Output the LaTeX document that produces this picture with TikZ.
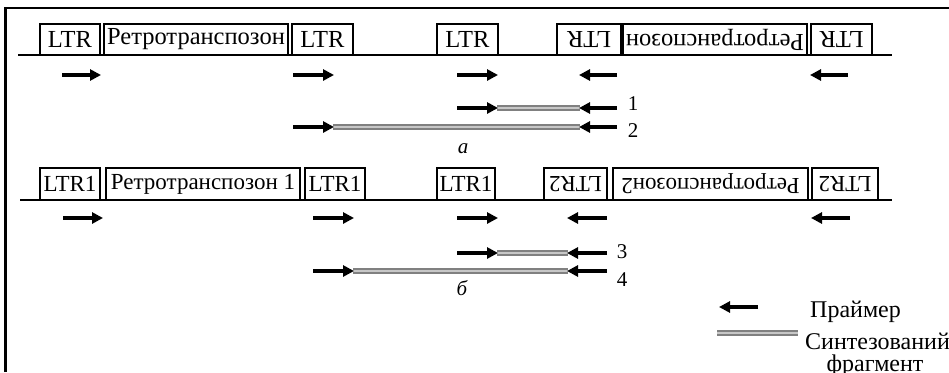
\documentclass[tikz,border=0pt]{standalone}
\usepackage{fontspec}
\setmainfont{Liberation Serif}
\usetikzlibrary{arrows.meta}
\begin{document}
\begin{tikzpicture}[x=1pt,y=-1pt,
  seg/.style={draw, line width=2pt, inner sep=0pt},
  segA/.style={seg, minimum height=31pt, font=\fontsize{24.5}{24.5}\selectfont},
  segB/.style={seg, minimum height=32pt, font=\fontsize{23}{23}\selectfont},
  inv/.style={rotate=180},
  dna/.style={line width=2.6pt},
  dnathin/.style={line width=1.5pt},
  primer/.style={line width=3.2pt, -{Triangle[length=11pt,width=11pt]}},
  fragment/.style={draw=black!50, line width=1.8pt, double=black!22, double distance=1.6pt},
  lbl/.style={inner sep=0pt, font=\fontsize{21}{21}\selectfont},
  legend/.style={inner sep=0pt, font=\fontsize{24}{24}\selectfont}]
\useasboundingbox (0,0) rectangle (949,372);
\fill[white] (0,0) rectangle (949,372);

% frame
\draw[line width=2.8pt] (5.5,372) -- (5.5,8) -- (949,8);

% ---------- case a ----------
\draw[dna] (18,55) -- (892,55);
\node[segA] (a1) at (70,39.5) [minimum width=60pt] {LTR};
\node[segA] (a2) at (196,39.5) [minimum width=184pt] {Ретротранспозон};
\node[segA] (a3) at (322.5,39.5) [minimum width=61pt] {LTR};
\node[segA] (a4) at (467.5,39.5) [minimum width=61pt] {LTR};
\node[segA, inv] (a5) at (589,39.5) [minimum width=64pt] {LTR};
\node[segA, inv] (a6) at (715,39.5) [minimum width=184pt] {Ретротранспозон};
\node[segA, inv] (a7) at (841.5,39.5) [minimum width=61pt] {LTR};

% primers
\draw[primer] (62,75) -- (101,75);
\draw[primer] (293,75) -- (334,75);
\draw[primer] (457,75) -- (498,75);
\draw[primer] (617,75) -- (579,75);
\draw[primer] (848,75) -- (810,75);

% products 1 and 2
\draw[fragment] (497,108) -- (580,108);
\draw[primer] (457,108) -- (498,108);
\draw[primer] (617,108) -- (579,108);
\node[lbl] (n1) at (633,104) {1};

\draw[fragment] (333,127) -- (580,127);
\draw[primer] (293,127) -- (334,127);
\draw[primer] (617,127) -- (579,127);
\node[lbl] (n2) at (633,131) {2};

\node[lbl] (capa) at (463,149) {\itshape a};

% ---------- case b ----------
\draw[dna] (20,200) -- (380,200);
\draw[dnathin] (380,200) -- (544,200);
\draw[dna] (544,200) -- (892,200);
\node[segB] (b1) at (70,184) [minimum width=60pt] {LTR1};
\node[segB] (b2) at (203,184) [minimum width=194pt] {Ретротранспозон 1};
\node[segB] (b3) at (335,184) [minimum width=60pt] {LTR1};
\node[segB] (b4) at (466,184) [minimum width=58pt] {LTR1};
\node[segB, inv] (b5) at (575.5,184) [minimum width=63pt] {LTR2};
\node[segB, inv] (b6) at (710.5,184) [minimum width=195pt] {Ретротранспозон2};
\node[segB, inv] (b7) at (845,184) [minimum width=66pt] {LTR2};

% primers
\draw[primer] (63,218) -- (103,218);
\draw[primer] (313,218) -- (354,218);
\draw[primer] (457,218) -- (498,218);
\draw[primer] (607,218) -- (567,218);
\draw[primer] (850,218) -- (811,218);

% products 3 and 4
\draw[fragment] (497,253) -- (568,253);
\draw[primer] (457,253) -- (498,253);
\draw[primer] (607,253) -- (567,253);
\node[lbl] (n3) at (622,252) {3};

\draw[fragment] (353,271) -- (568,271);
\draw[primer] (313,271) -- (354,271);
\draw[primer] (607,271) -- (567,271);
\node[lbl] (n4) at (622,280) {4};

\node[lbl] (capb) at (462,288) {\itshape б};

% ---------- legend ----------
\draw[primer] (758,307) -- (719,307);
\node[legend, anchor=base west] (lp) at (810,317) {Праймер};
\draw[fragment] (717,333) -- (798,333);
\node[legend, anchor=base west] (lf) at (805,349) {Синтезований};
\node[legend, anchor=base] (lf2) at (875,371) {фрагмент};
\end{tikzpicture}
\end{document}
